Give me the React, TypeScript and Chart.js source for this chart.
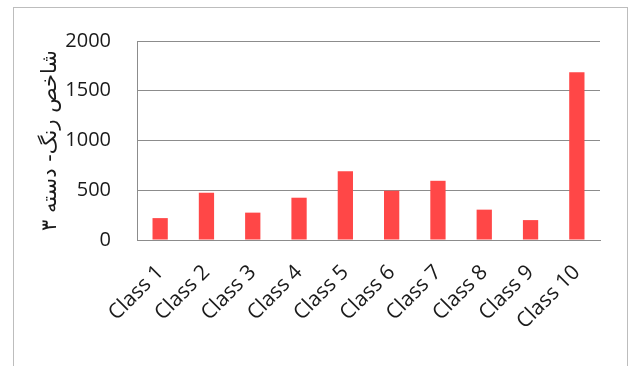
import { useEffect, useRef } from "react";
import { Chart, registerables } from "chart.js";

Chart.register(...registerables);

const categories = [
  "Class 1",
  "Class 2",
  "Class 3",
  "Class 4",
  "Class 5",
  "Class 6",
  "Class 7",
  "Class 8",
  "Class 9",
  "Class 10",
];
const colorIndex = [220, 475, 275, 425, 690, 495, 595, 305, 200, 1685];
const yTicks = [0, 500, 1000, 1500, 2000];
const yTitle = "شاخص رنگ- دسته ۳";

const FONT = "'Open Sans', 'DejaVu Sans', sans-serif";
const GRID = "#8c8c8c";
const TEXT = "#1a1a1a";

export default function App() {
  const canvasRef = useRef<HTMLCanvasElement | null>(null);

  useEffect(() => {
    const canvas = canvasRef.current;
    if (!canvas) return;
    const chart = new Chart(canvas, {
      type: "bar",
      data: {
        labels: categories,
        datasets: [
          {
            data: colorIndex,
            backgroundColor: "#ff4747",
            borderWidth: 0,
            barPercentage: 0.33,
            categoryPercentage: 1,
          },
        ],
      },
      options: {
        responsive: false,
        animation: false,
        devicePixelRatio: 1,
        layout: { padding: { left: 0, right: 35, top: 41, bottom: 0 } },
        plugins: {
          legend: { display: false },
          tooltip: { enabled: false },
        },
        scales: {
          x: {
            grid: { display: false, drawTicks: false },
            border: { display: true, color: GRID, width: 1 },
            ticks: {
              autoSkip: false,
              maxRotation: 45,
              minRotation: 45,
              padding: 20,
              color: TEXT,
              font: { family: FONT, size: 21 },
            },
            afterFit: (scale: any) => {
              scale.height = 126;
            },
          },
          y: {
            min: 0,
            max: 2000,
            afterBuildTicks: (scale: any) => {
              scale.ticks = yTicks.map((v) => ({ value: v }));
            },
            grid: { color: GRID, lineWidth: 1, drawTicks: false },
            border: { display: true, color: GRID, width: 1 },
            ticks: {
              padding: 26,
              color: TEXT,
              font: { family: FONT, size: 20 },
              callback: (value: any) => String(value),
            },
            title: {
              display: true,
              text: yTitle,
              color: TEXT,
              padding: { top: 38, bottom: 0 },
              font: { family: "'DejaVu Sans', sans-serif", size: 21 },
            },
            afterFit: (scale: any) => {
              scale.width = 137;
            },
          },
        },
      },
    });
    return () => chart.destroy();
  }, []);

  return (
    <div
      style={{
        position: "absolute",
        left: 0,
        top: 0,
        width: 635,
        height: 366,
        background: "#ffffff",
        overflow: "hidden",
      }}
    >
      <div
        style={{
          position: "absolute",
          left: 13,
          top: 7,
          width: 613,
          height: 400,
          border: "1px solid #bdbdbd",
        }}
      />
      <canvas
        ref={canvasRef}
        width={635}
        height={366}
        style={{ position: "absolute", left: 0, top: 0 }}
      />
    </div>
  );
}
